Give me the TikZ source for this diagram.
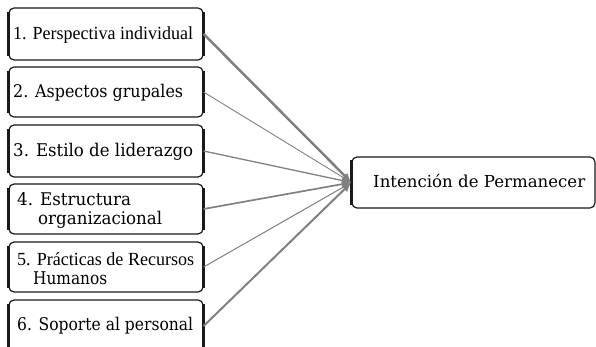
\documentclass[tikz,border=0pt]{standalone}
\usepackage{fontspec}
\usepackage{graphicx}
\setmainfont{DejaVu Serif}
\newfontfamily\timesf{Liberation Serif}
\usetikzlibrary{arrows.meta}
\newcommand\fitw[2]{\resizebox{#1}{\height}{#2}}
\tikzset{
  itembox/.style={draw=black!90, line width=1.2pt, rounded corners=5pt, minimum width=194pt, inner sep=0pt, fill=white},
  sidebar/.style={line width=2.6pt, black!90},
  csch/.style={anchor=base west, inner sep=0pt, font=\fontsize{17.5}{20}\selectfont},
  tms/.style={anchor=base west, inner sep=0pt, font=\timesf\fontsize{18.5}{20}\selectfont},
  conn/.style={draw=black!50, -{Latex[length=9pt,width=8pt]}, shorten >=0.5pt},
}
\begin{document}
\begin{tikzpicture}[x=1pt,y=-1pt]
\useasboundingbox (0,0) rectangle (596,347);
\node[itembox, minimum height=52pt] (b1) at (106,34) {};
\node[itembox, minimum height=50pt] (b2) at (106,92) {};
\node[itembox, minimum height=52pt] (b3) at (106,151) {};
\node[itembox, minimum height=50pt] (b4) at (106,209) {};
\node[itembox, minimum height=50pt] (b5) at (106,267) {};
\node[itembox, minimum height=52pt] (b6) at (106,326) {};
\node[itembox, minimum width=243pt, minimum height=51pt] (t) at (473.5,182.5) {};
\foreach \n in {b1,b2,b3,b4,b5,b6}{
  \draw[sidebar] ([yshift=-5pt]\n.north west) -- ([yshift=5pt]\n.south west);
  \draw[sidebar] ([yshift=-5pt]\n.north east) -- ([yshift=5pt]\n.south east);
}
\draw[sidebar, line width=3pt] ([yshift=-4pt]t.north west) -- ([yshift=4pt]t.south west);
% texts
\node[tms] (l1) at (13,39.5) {\fitw{180pt}{1. Perspectiva individual}};
\node[csch] (l2) at (13,98) {\fitw{170pt}{2. Aspectos grupales}};
\node[csch] (l3) at (13,157) {\fitw{180pt}{3. Estilo de liderazgo}};
\node[csch] (l4a) at (17,205) {\fitw{114pt}{4. Estructura}};
\node[csch] (l4b) at (38,225) {\fitw{124pt}{organizacional}};
\node[tms] (l5a) at (17,265) {\fitw{177pt}{5. Prácticas de Recursos}};
\node[csch] (l5b) at (33,284) {\fitw{74pt}{Humanos}};
\node[csch] (l6) at (17,330) {\fitw{176pt}{6. Soporte al personal}};
\node[csch, font=\fontsize{16.5}{20}\selectfont] (lt) at (373,188) {\fitw{212pt}{Intención de Permanecer}};
% connectors
\draw[conn, line width=2.5pt] (b1.east) -- (t.west);
\draw[conn, line width=0.9pt] (b2.east) -- (t.west);
\draw[conn, line width=1.3pt] (b3.east) -- (t.west);
\draw[conn, line width=1.7pt] (b4.east) -- (t.west);
\draw[conn, line width=1pt] (b5.east) -- (t.west);
\draw[conn, line width=2pt] (b6.east) -- (t.west);
\end{tikzpicture}
\end{document}
